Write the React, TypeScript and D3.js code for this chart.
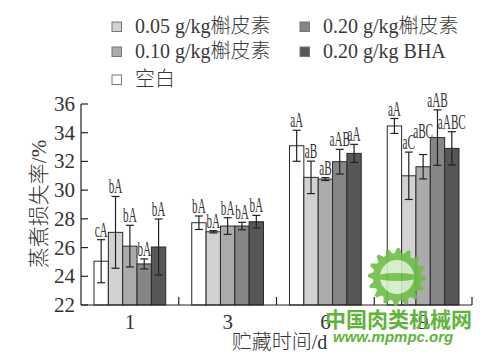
import React from "react";
import * as d3 from "d3";

const days = ["1", "3", "6", "9"];
const seriesNames = ["空白", "0.05 g/kg槲皮素", "0.10 g/kg槲皮素", "0.20 g/kg槲皮素", "0.20 g/kg BHA"];
const seriesColors = ["#ffffff", "#d2d2d2", "#ababab", "#868686", "#575757"];
// values per series across days
const blank = [25.05, 27.73, 33.09, 34.47];
const q005 = [27.06, 27.1, 30.89, 31.0];
const q010 = [26.1, 27.5, 30.77, 31.63];
const q020 = [24.86, 27.5, 31.98, 33.66];
const bha = [26.04, 27.8, 32.56, 32.91];
const blankErr = [1.5, 0.47, 1.08, 0.52];
const q005Err = [2.5, 0.08, 1.13, 1.65];
const q010Err = [1.45, 0.58, 0.1, 0.85];
const q020Err = [0.35, 0.26, 0.86, 1.93];
const bhaErr = [1.95, 0.44, 0.63, 1.16];
const blankSig = ["cA", "bA", "aA", "aA"];
const q005Sig = ["bA", "bA", "aB", "aC"];
const q010Sig = ["bA", "bA", "aB", "aBC"];
const q020Sig = ["bA", "bA", "aAB", "aAB"];
const bhaSig = ["bA", "bA", "aA", "aABC"];
const yTicks = [22, 24, 26, 28, 30, 32, 34, 36];

const values = [blank, q005, q010, q020, bha];
const errors = [blankErr, q005Err, q010Err, q020Err, bhaErr];
const sigs = [blankSig, q005Sig, q010Sig, q020Sig, bhaSig];

const serif = "'Liberation Serif', 'Times New Roman', serif";
const cjk = "'Noto Sans CJK SC', sans-serif";

export default function App() {
  const W = 500, H = 356;
  const left = 81, right = 472, top = 104, bottom = 305;
  const x = d3.scaleBand<string>().domain(days).range([left, right]).padding(0);
  const inner = d3
    .scaleBand<number>()
    .domain(d3.range(5))
    .range([13, x.bandwidth() - 13])
    .padding(0);
  const y = d3.scaleLinear().domain([22, 36]).range([bottom, top]);

  const bars: React.ReactNode[] = [];
  const errs: React.ReactNode[] = [];
  const labels: React.ReactNode[] = [];
  days.forEach((d, di) => {
    let prev: { cx: number; w: number; by: number } | null = null;
    values.forEach((s, si) => {
      const bx = (x(d) as number) + (inner(si) as number);
      const bw = inner.bandwidth();
      const v = s[di];
      const e = errors[si][di];
      bars.push(
        <rect key={`b${di}-${si}`} x={bx} y={y(v)} width={bw} height={bottom - y(v)}
          fill={seriesColors[si]} stroke="#2a2a2a" strokeWidth={1} />
      );
      const cx = bx + bw / 2;
      errs.push(
        <g key={`e${di}-${si}`} stroke="#222" strokeWidth={1.2}>
          <line x1={cx} x2={cx} y1={y(v + e)} y2={y(v - e)} />
          <line x1={cx - 4} x2={cx + 4} y1={y(v + e)} y2={y(v + e)} />
          <line x1={cx - 4} x2={cx + 4} y1={y(v - e)} y2={y(v - e)} />
        </g>
      );
      const txt = sigs[si][di];
      const w = txt.length * 6.5;
      let by = y(v + e) - 3;
      if (prev && Math.abs(cx - prev.cx) < (w + prev.w) / 2 - 1 && by >= prev.by - 2 && by - prev.by < 12) {
        by = prev.by - 11;
      }
      prev = { cx, w, by };
      labels.push(
        <text key={`l${di}-${si}`} transform={`translate(${cx},${by}) scale(0.56,1)`}
          textAnchor="middle" fontFamily={serif} fontSize={20} fill="#333">
          {txt}
        </text>
      );
    });
  });

  const legendItems = [
    { i: 1, x: 112, y: 22 },
    { i: 2, x: 112, y: 47 },
    { i: 0, x: 112, y: 75 },
    { i: 3, x: 300, y: 22 },
    { i: 4, x: 300, y: 47 },
  ];

  // simple gear for watermark
  const gearCx = 397, gearCy = 277, rOut = 29, rIn = 24;
  const teeth = 16;
  const gearPts: [number, number][] = [];
  for (let k = 0; k < teeth * 4; k++) {
    const a = (k / (teeth * 4)) * Math.PI * 2;
    const r = k % 4 < 2 ? rOut : rIn;
    gearPts.push([gearCx + r * Math.cos(a), gearCy + r * Math.sin(a)]);
  }
  const gearPath = d3.line()(gearPts) + "Z";

  return (
    <svg width={W} height={H} style={{ position: "absolute", left: 0, top: 0, background: "#fff" }}>
      <rect width={W} height={H} fill="#fff" />
      {legendItems.map((it) => (
        <g key={`lg${it.i}`}>
          <rect x={it.x} y={it.y} width={9.5} height={9.5} fill={seriesColors[it.i]} stroke="#777" strokeWidth={1} />
          <text x={it.x + 23} y={it.y + 11} fontFamily={serif} fontSize={20} fill="#3a3a3a">
            {seriesNames[it.i].split(/(槲皮素|空白)/).filter(Boolean).map((p, pi) =>
              /槲皮素|空白/.test(p) ? (
                <tspan key={pi} fontFamily={cjk} fontWeight={300}>{p}</tspan>
              ) : (
                <tspan key={pi}>{p}</tspan>
              )
            )}
          </text>
        </g>
      ))}
      {/* watermark gear (behind bars edge like original overlay) */}
      {bars}
      {errs}
      {labels}
      {/* axes */}
      <line x1={left} x2={left} y1={top} y2={bottom} stroke="#222" strokeWidth={1.2} />
      <line x1={left} x2={right} y1={bottom} y2={bottom} stroke="#222" strokeWidth={1.2} />
      {yTicks.map((t) => (
        <g key={`yt${t}`}>
          <line x1={left} x2={left + 7} y1={y(t)} y2={y(t)} stroke="#222" strokeWidth={1.2} />
          <text x={left - 6} y={y(t) + 7} textAnchor="end" fontFamily={serif} fontSize={21} fill="#333">{t}</text>
        </g>
      ))}
      {days.map((d) => (
        <g key={`xt${d}`}>
          <line x1={(x(d) as number) + x.bandwidth()} x2={(x(d) as number) + x.bandwidth()}
            y1={bottom} y2={bottom - 8} stroke="#222" strokeWidth={1.2} />
          <text x={(x(d) as number) + x.bandwidth() / 2} y={bottom + 24} textAnchor="middle"
            fontFamily={serif} fontSize={21} fill="#333">{d}</text>
        </g>
      ))}
      <text x={(left + right) / 2 + 3} y={349} textAnchor="middle" fontSize={20} fill="#333">
        <tspan fontFamily={cjk} fontWeight={300}>贮藏时间</tspan>
        <tspan fontFamily={serif}>/d</tspan>
      </text>
      <text transform={`translate(46,${204}) rotate(-90)`} textAnchor="middle" fontSize={21} fill="#333">
        <tspan fontFamily={cjk} fontWeight={300}>蒸煮损失率</tspan>
        <tspan fontFamily={serif}>/%</tspan>
      </text>
      {/* watermark */}
      <g opacity={0.9}>
        <path d={gearPath} fill="#6cbf45" />
        <circle cx={gearCx} cy={gearCy} r={17} fill="#ffffff" opacity={0.7} />
        <ellipse cx={gearCx} cy={gearCy} rx={22} ry={4} fill="#6cbf45" />
      </g>
      <text x={325} y={327} fontFamily={cjk} fontWeight="bold" fontSize={21} fill="#5fb43a">中国肉类机械网</text>
      <text x={333} y={342} fontFamily="'Liberation Sans', Arial, sans-serif" fontWeight="bold" fontStyle="italic"
        fontSize={15} fill="#5fb43a">www.mpmpc.org</text>
    </svg>
  );
}
